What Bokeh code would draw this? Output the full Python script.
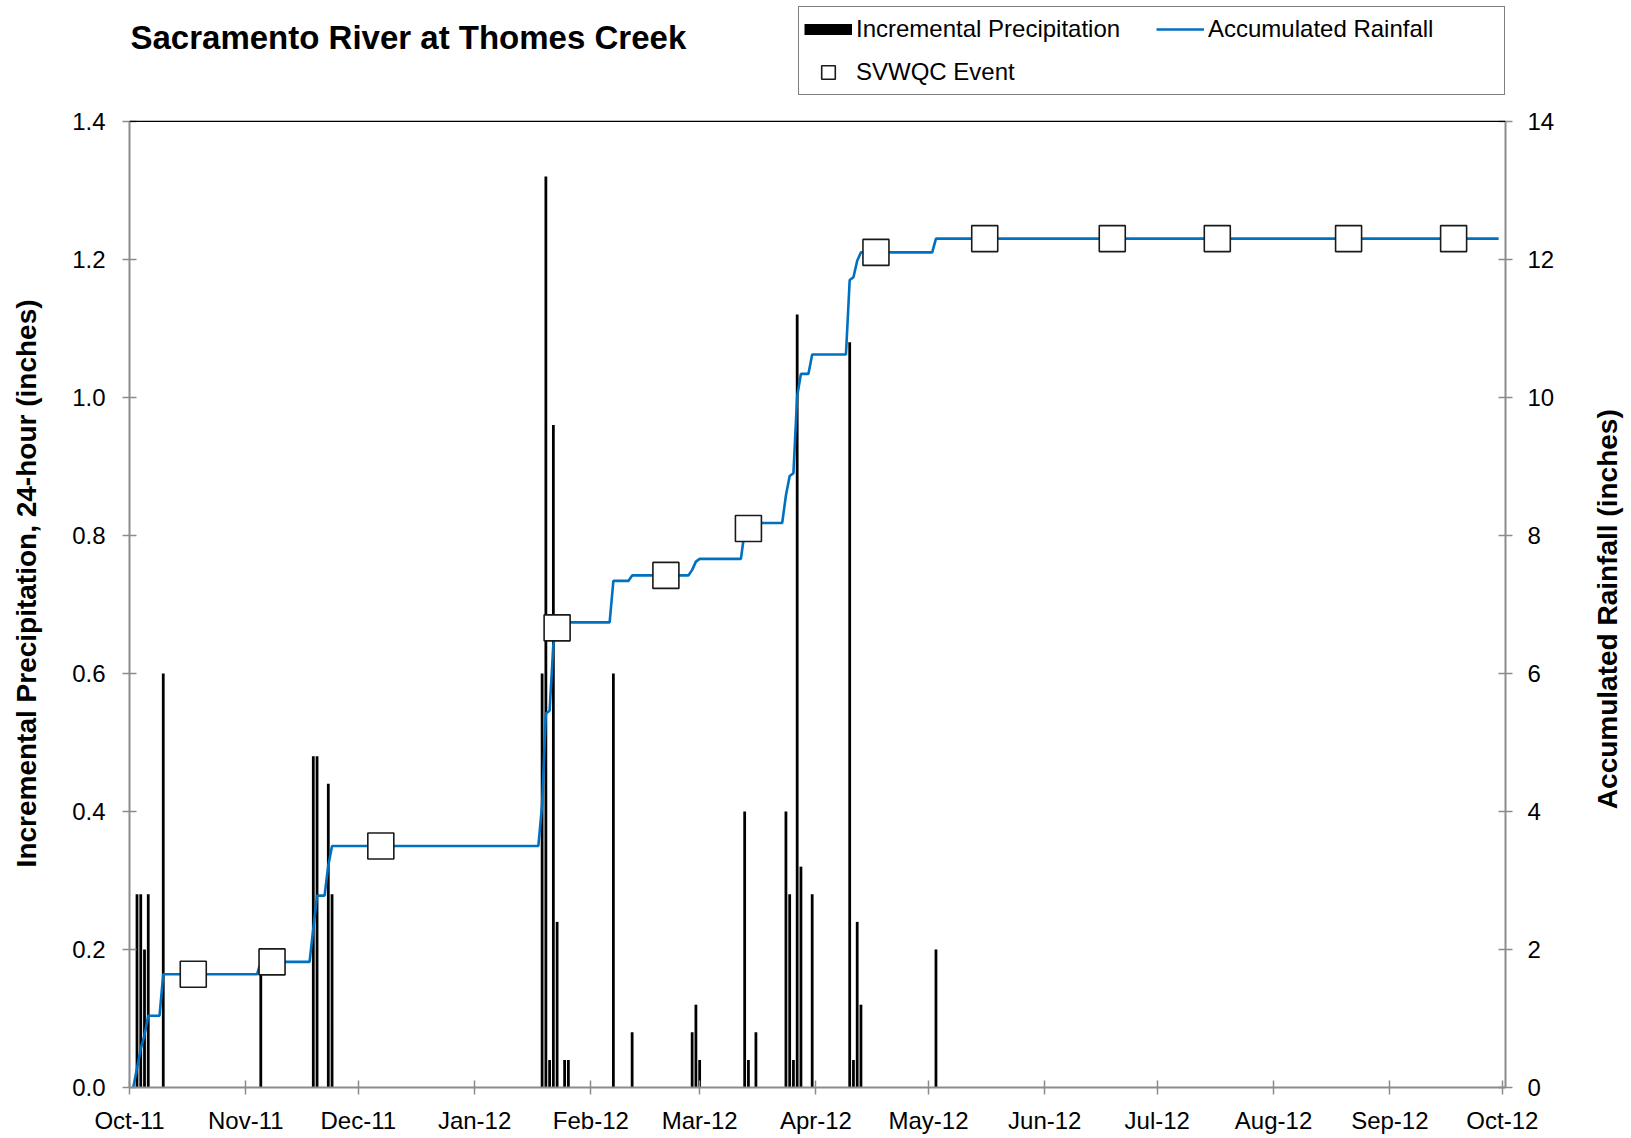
import math
from datetime import datetime
from bokeh.plotting import figure
from bokeh.models import (Range1d, LinearAxis, DatetimeTickFormatter, FixedTicker,
                          Legend, LegendItem, Span, Label, NumeralTickFormatter,
                          ColumnDataSource)
from bokeh.embed import file_html
from bokeh.resources import INLINE

# ---------------- data ----------------
precip_dates = ["2011-10-03", "2011-10-04", "2011-10-05", "2011-10-06", "2011-10-10",
                "2011-11-05", "2011-11-19", "2011-11-20", "2011-11-23", "2011-11-24",
                "2012-01-19", "2012-01-20", "2012-01-21", "2012-01-22", "2012-01-23",
                "2012-01-25", "2012-01-26", "2012-02-07", "2012-02-12", "2012-02-28",
                "2012-02-29", "2012-03-01", "2012-03-13", "2012-03-14", "2012-03-16",
                "2012-03-24", "2012-03-25", "2012-03-26", "2012-03-27", "2012-03-28",
                "2012-03-31", "2012-04-10", "2012-04-11", "2012-04-12", "2012-04-13",
                "2012-05-03"]
precip_in = [0.28, 0.28, 0.20, 0.28, 0.60,
             0.18, 0.48, 0.48, 0.44, 0.28,
             0.60, 1.32, 0.04, 0.96, 0.24,
             0.04, 0.04, 0.60, 0.08, 0.08,
             0.12, 0.04, 0.40, 0.04, 0.08,
             0.40, 0.28, 0.04, 1.12, 0.32,
             0.28, 1.08, 0.04, 0.24, 0.12,
             0.20]

acc_dates = ["2011-10-02", "2011-10-03", "2011-10-04", "2011-10-05", "2011-10-06",
             "2011-10-09", "2011-10-10", "2011-11-04", "2011-11-05", "2011-11-18",
             "2011-11-19", "2011-11-20", "2011-11-22", "2011-11-23", "2011-11-24",
             "2012-01-18", "2012-01-19", "2012-01-20", "2012-01-21", "2012-01-22",
             "2012-01-23", "2012-01-24", "2012-01-25", "2012-01-26", "2012-02-06",
             "2012-02-07", "2012-02-11", "2012-02-12", "2012-02-27", "2012-02-28",
             "2012-02-29", "2012-03-01", "2012-03-12", "2012-03-13", "2012-03-14",
             "2012-03-15", "2012-03-16", "2012-03-23", "2012-03-24", "2012-03-25",
             "2012-03-26", "2012-03-27", "2012-03-28", "2012-03-30", "2012-03-31",
             "2012-04-09", "2012-04-10", "2012-04-11", "2012-04-12", "2012-04-13",
             "2012-05-02", "2012-05-03", "2012-09-30"]
acc_in = [0.00, 0.28, 0.56, 0.76, 1.04,
          1.04, 1.64, 1.64, 1.82, 1.82,
          2.30, 2.78, 2.78, 3.22, 3.50,
          3.50, 4.10, 5.42, 5.46, 6.42,
          6.66, 6.66, 6.70, 6.74, 6.74,
          7.34, 7.34, 7.42, 7.42, 7.50,
          7.62, 7.66, 7.66, 8.06, 8.10,
          8.10, 8.18, 8.18, 8.58, 8.86,
          8.90, 10.02, 10.34, 10.34, 10.62,
          10.62, 11.70, 11.74, 11.98, 12.10,
          12.10, 12.30, 12.30]

event_dates = ["2011-10-18", "2011-11-08", "2011-12-07", "2012-01-23", "2012-02-21",
               "2012-03-14", "2012-04-17", "2012-05-16", "2012-06-19", "2012-07-17",
               "2012-08-21", "2012-09-18"]
event_acc = [1.64, 1.82, 3.50, 6.66, 7.42,
             8.10, 12.10, 12.30, 12.30, 12.30,
             12.30, 12.30]

month_ticks = ["2011-10-01", "2011-11-01", "2011-12-01", "2012-01-01", "2012-02-01",
               "2012-03-01", "2012-04-01", "2012-05-01", "2012-06-01", "2012-07-01",
               "2012-08-01", "2012-09-01", "2012-10-01"]
left_ticks = [0.0, 0.2, 0.4, 0.6, 0.8, 1.0, 1.2, 1.4]
right_ticks = [0, 2, 4, 6, 8, 10, 12, 14]

# ---------------- helpers ----------------
def d(s):
    return datetime.strptime(s, "%Y-%m-%d")

DAY_MS = 86400000.0
def ms(s):
    return (d(s) - datetime(1970, 1, 1)).total_seconds() * 1000.0

FONT = "Liberation Sans"
AXIS_GRAY = "#8c8c8c"

# layout (page pixels): plot area spans x 129..1505, y 121..1089;
# the frame is extended to the top of the page to hold the title and legend
FRAME_LEFT, FRAME_RIGHT = 129, 1505
FRAME_BOTTOM = 1089
AREA_TOP = 121
LEFT_MAX = left_ticks[-1]
RIGHT_MAX = right_ticks[-1]
ext = FRAME_BOTTOM / (FRAME_BOTTOM - AREA_TOP)
X_START = d("2011-10-01")
X_END = datetime(2012, 10, 1, 20, 0)
PX_PER_MS = (FRAME_RIGHT - FRAME_LEFT) / ((X_END - X_START).total_seconds() * 1000.0)
PX_PER_LEFT = (FRAME_BOTTOM - AREA_TOP) / LEFT_MAX

def page_x_to_data(px):
    return ms("2011-10-01") + (px - FRAME_LEFT) / PX_PER_MS

def page_y_to_left(py):
    return (FRAME_BOTTOM - py) / PX_PER_LEFT

bars = ColumnDataSource(dict(x=[d(s) for s in precip_dates], top=precip_in))
acc = ColumnDataSource(dict(x=[d(s) for s in acc_dates], y=acc_in))
ev = ColumnDataSource(dict(x=[d(s) for s in event_dates], y=event_acc))

p = figure(width=1628, height=1136, x_axis_type="datetime",
           x_range=Range1d(start=X_START, end=X_END),
           y_range=Range1d(0, LEFT_MAX * ext),
           output_backend="svg", toolbar_location=None,
           min_border_left=FRAME_LEFT, min_border_right=1628 - FRAME_RIGHT,
           min_border_top=0, min_border_bottom=1136 - FRAME_BOTTOM)
p.outline_line_color = None
p.xgrid.visible = False
p.ygrid.visible = False
p.background_fill_color = "white"
p.border_fill_color = "white"

p.extra_y_ranges = {"acc": Range1d(0, RIGHT_MAX * ext)}

# bars
p.vbar(x="x", top="top", width=0.74 * DAY_MS, source=bars,
       fill_color="black", line_color=None)

# accumulated line
acc_line = p.line(x="x", y="y", source=acc, line_color="#0070C0", line_width=2.6,
                  y_range_name="acc")

# events
ev_r = p.scatter(x="x", y="y", source=ev, marker="square", size=26,
                 fill_color="white", line_color="#1a1a1a", line_width=1.6,
                 y_range_name="acc")

# top border of the plot area
p.add_layout(Span(location=LEFT_MAX, dimension="width", line_color="black",
                  line_width=1.2))

# axes styling
def style_axis(ax):
    ax.axis_line_color = AXIS_GRAY
    ax.axis_line_width = 2
    ax.major_tick_line_color = AXIS_GRAY
    ax.major_tick_line_width = 1.5
    ax.major_tick_in = 7
    ax.major_tick_out = 7
    ax.minor_tick_line_color = None
    ax.major_label_text_font = FONT
    ax.major_label_text_font_size = "24px"
    ax.major_label_text_color = "black"

xa = p.xaxis[0]
style_axis(xa)
xa.ticker = FixedTicker(ticks=[ms(s) for s in month_ticks])
xa.formatter = DatetimeTickFormatter(days="%b-%y", months="%b-%y", years="%b-%y",
                                     hours="%b-%y", minutes="%b-%y")
xa.major_label_standoff = 12

ya = p.yaxis[0]
style_axis(ya)
ya.bounds = (0, LEFT_MAX)
ya.ticker = FixedTicker(ticks=left_ticks)
ya.formatter = NumeralTickFormatter(format="0.0")
ya.major_label_standoff = 17

ra = LinearAxis(y_range_name="acc")
style_axis(ra)
ra.bounds = (0, RIGHT_MAX)
ra.ticker = FixedTicker(ticks=right_ticks)
ra.major_label_standoff = 15
p.add_layout(ra, "right")

# left axis title (rotated, in the left border panel)
p.add_layout(Label(x=page_x_to_data(26), y=page_y_to_left(584),
                   angle=math.pi / 2, angle_units="rad",
                   text="Incremental Precipitation, 24-hour (inches)",
                   text_font=FONT, text_font_size="28px", text_font_style="bold",
                   text_color="black", text_align="center", text_baseline="middle"),
             "left")

# right axis title
p.add_layout(Label(x=50, y=6.93, x_units="screen", y_units="data", y_range_name="acc",
                   angle=math.pi / 2, angle_units="rad",
                   text="Accumulated Rainfall (inches)",
                   text_font=FONT, text_font_size="28px", text_font_style="bold",
                   text_color="black", text_align="center", text_baseline="middle"),
             "right")

# chart title (inside the extended frame)
p.add_layout(Label(x=page_x_to_data(130), y=page_y_to_left(37.5),
                   text="Sacramento River at Thomes Creek",
                   text_font=FONT, text_font_size="33px", text_font_style="bold",
                   text_baseline="middle", text_align="left", text_color="black"))

# legend
leg_bar = p.line(x=[float("nan")], y=[float("nan")], line_color="black", line_width=11)
legend = Legend(items=[LegendItem(label="Incremental Precipitation", renderers=[leg_bar]),
                       LegendItem(label="Accumulated Rainfall", renderers=[acc_line]),
                       LegendItem(label="SVWQC Event", renderers=[ev_r])],
                orientation="horizontal", ncols=2,
                glyph_width=48, glyph_height=34, label_height=34, label_width=291,
                label_standoff=4, spacing=9, padding=5, margin=0,
                label_text_font=FONT, label_text_font_size="24px",
                label_text_color="black", label_text_baseline="middle",
                border_line_color="black", border_line_width=1.5,
                background_fill_color="white", background_fill_alpha=1.0,
                location=(798 - FRAME_LEFT, FRAME_BOTTOM - 97))
p.add_layout(legend, "center")

open("out.html", "w").write(file_html(p, INLINE))
